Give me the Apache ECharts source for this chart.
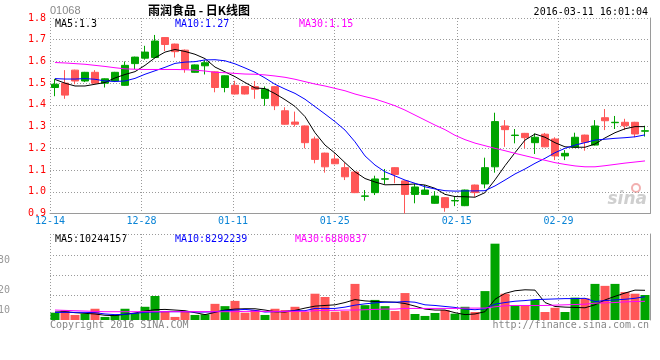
<!DOCTYPE html>
<html>
<head>
<meta charset="utf-8">
<script src="https://cdn.jsdelivr.net/npm/echarts@6/dist/echarts.min.js"></script>
<style>
html,body{margin:0;padding:0;background:#fff;}
#c{width:660px;height:360px;}
</style>
</head>
<body>
<div id="c"></div>
<script>
// ---- data ----
const dates = ['12-14','12-15','12-16','12-17','12-18','12-21','12-22','12-23','12-24','12-28',
  '12-29','12-30','12-31','01-04','01-05','01-06','01-07','01-08','01-11','01-12',
  '01-13','01-14','01-15','01-18','01-19','01-20','01-21','01-22','01-25','01-26',
  '01-27','01-28','01-29','02-01','02-02','02-03','02-04','02-05','02-11','02-12',
  '02-15','02-16','02-17','02-18','02-19','02-22','02-23','02-24','02-25','02-26',
  '02-29','03-01','03-02','03-03','03-04','03-07','03-08','03-09','03-10','03-11'];
const openP = [1.480,1.500,1.560,1.510,1.550,1.500,1.510,1.490,1.590,1.615,
  1.618,1.710,1.680,1.652,1.550,1.580,1.552,1.480,1.490,1.485,
  1.484,1.430,1.484,1.373,1.321,1.303,1.243,1.178,1.151,1.111,
  1.091,0.979,0.996,1.058,1.111,1.050,0.988,0.988,0.947,0.973,
  0.958,0.936,1.031,1.036,1.115,1.303,1.259,1.269,1.226,1.265,
  1.243,1.165,1.205,1.261,1.215,1.341,1.318,1.320,1.320,1.279];
const closeP = [1.495,1.445,1.510,1.550,1.500,1.520,1.550,1.582,1.620,1.643,
  1.694,1.678,1.645,1.565,1.584,1.594,1.480,1.534,1.450,1.450,
  1.472,1.472,1.396,1.311,1.311,1.226,1.149,1.115,1.129,1.069,
  0.996,0.981,1.059,1.060,1.080,0.988,1.022,1.008,0.980,0.927,
  0.960,1.008,0.996,1.111,1.323,1.286,1.261,1.249,1.251,1.207,
  1.165,1.177,1.251,1.228,1.303,1.327,1.320,1.304,1.266,1.281];
const lowP = [1.440,1.428,1.495,1.505,1.498,1.480,1.505,1.488,1.565,1.608,
  1.615,1.648,1.618,1.548,1.548,1.540,1.458,1.458,1.448,1.448,
  1.428,1.396,1.376,1.309,1.300,1.200,1.131,1.088,1.127,1.054,
  0.994,0.959,0.985,1.036,1.039,0.900,0.947,0.986,0.945,0.908,
  0.934,0.934,0.977,1.016,1.088,1.207,1.223,1.200,1.174,1.205,
  1.146,1.146,1.203,1.189,1.213,1.284,1.289,1.284,1.251,1.254];
const highP = [1.520,1.560,1.562,1.552,1.560,1.522,1.552,1.600,1.622,1.672,
  1.722,1.712,1.682,1.655,1.586,1.606,1.554,1.536,1.511,1.486,
  1.510,1.485,1.486,1.389,1.369,1.305,1.254,1.180,1.172,1.133,
  1.093,1.008,1.074,1.105,1.113,1.052,1.037,1.031,1.003,0.975,
  0.977,1.010,1.033,1.157,1.364,1.330,1.289,1.271,1.269,1.271,
  1.251,1.192,1.272,1.263,1.330,1.381,1.349,1.336,1.322,1.304];
const ma5 = [1.517,1.500,1.487,1.487,1.495,1.503,1.524,1.540,1.553,1.582,
  1.617,1.643,1.655,1.646,1.633,1.613,1.574,1.552,1.530,1.503,
  1.478,1.475,1.452,1.424,1.393,1.346,1.272,1.215,1.178,1.134,
  1.092,1.061,1.045,1.032,1.033,1.033,1.036,1.031,1.016,0.988,
  0.978,0.977,0.975,0.996,1.055,1.120,1.180,1.238,1.266,1.251,
  1.226,1.207,1.205,1.205,1.220,1.248,1.272,1.290,1.300,1.300];
const ma10 = [1.521,1.519,1.519,1.521,1.518,1.510,1.508,1.510,1.522,1.541,
  1.557,1.573,1.591,1.597,1.599,1.607,1.608,1.603,1.589,1.570,
  1.550,1.524,1.495,1.473,1.453,1.426,1.392,1.358,1.323,1.284,
  1.230,1.165,1.123,1.092,1.073,1.054,1.039,1.023,1.013,1.005,
  1.003,1.004,1.004,1.005,1.027,1.054,1.082,1.105,1.131,1.154,
  1.180,1.200,1.215,1.226,1.238,1.242,1.246,1.249,1.253,1.262];
const ma30 = [1.595,1.593,1.590,1.587,1.582,1.577,1.571,1.566,1.564,1.563,
  1.563,1.563,1.563,1.562,1.560,1.556,1.550,1.548,1.545,1.542,
  1.541,1.538,1.533,1.527,1.518,1.507,1.496,1.487,1.476,1.465,
  1.450,1.438,1.427,1.412,1.396,1.376,1.353,1.330,1.307,1.286,
  1.260,1.240,1.224,1.212,1.200,1.189,1.177,1.166,1.155,1.145,
  1.134,1.126,1.119,1.115,1.115,1.120,1.126,1.132,1.137,1.142];
// volume in millions of shares
const vol = [3.4,4.2,2.7,3.1,4.6,2.1,2.7,4.6,3.3,5.2,
  8.5,3.6,2.1,3.6,2.7,2.9,6.1,5.4,7.0,3.4,
  4.2,2.7,4.6,4.2,5.2,3.6,9.2,8.2,3.7,3.9,
  12.2,5.7,7.3,5.4,3.9,9.4,3.0,2.4,3.3,4.2,
  3.1,5.2,3.6,10.0,24.5,9.2,5.7,5.7,7.3,3.6,
  4.9,3.6,8.0,7.8,12.2,11.6,12.2,9.7,9.2,8.8];
const volMa5 = [3.6,3.7,3.4,3.2,3.0,2.6,2.5,2.9,3.3,3.9,
  4.3,4.4,4.2,4.0,3.4,2.8,3.5,4.2,4.5,4.6,
  4.6,4.2,3.7,3.6,4.1,4.8,5.4,5.6,5.8,6.5,
  7.4,7.0,6.8,6.7,6.6,6.2,5.4,4.5,4.2,4.2,
  3.4,2.8,3.0,3.7,7.5,9.3,10.1,10.4,10.3,6.5,
  5.3,5.1,5.0,4.9,5.8,7.3,8.4,9.4,10.3,10.24];
const volMa10 = [3.5,3.5,3.5,3.5,3.4,3.0,2.8,2.9,3.2,3.5,
  3.6,3.7,3.7,3.7,3.6,3.6,3.7,4.0,4.2,4.4,
  4.1,3.6,3.7,3.8,4.0,4.0,4.7,4.7,4.7,5.1,
  5.7,6.1,6.4,6.6,6.6,6.8,6.6,5.8,5.6,5.3,
  5.0,4.5,4.3,4.6,6.0,6.5,6.9,7.1,7.4,7.5,
  7.6,7.7,7.7,7.8,6.8,7.1,7.3,7.5,7.8,8.29];
const volMa30 = [4.2,4.1,4.0,3.9,3.8,3.7,3.7,3.7,3.7,3.7,
  3.7,3.7,3.7,3.7,3.7,3.7,3.7,3.7,3.7,3.8,
  3.8,3.8,3.8,3.8,3.8,3.8,4.0,4.1,4.1,4.2,
  4.2,4.3,4.4,4.5,4.5,4.7,4.7,4.7,4.7,4.7,
  4.7,4.8,4.8,4.8,5.2,5.5,5.6,5.6,5.6,5.6,
  5.7,5.8,5.9,6.0,6.3,6.4,6.5,6.7,6.8,6.88];
const xTickLabels = ['12-14','12-28','01-11','01-25','02-15','02-29'];
const volTickLabels = ['30','20','10'];
const mainLegend = ['MA5:1.3','MA10:1.27','MA30:1.15'];
const volLegend = ['MA5:10244157','MA10:8292239','MA30:6880837'];
const stockCode = '01068';
const titleText = '雨润食品 - 日K线图';
const timeText = '2016-03-11 16:01:04';

// ---- chart ----
const UP = '#00a400', DOWN = '#ff5757';
const MONO = 'DejaVu Sans Mono';
const tickIdx = xTickLabels.map(l => dates.indexOf(l));
const kData = dates.map((d, i) => [openP[i], closeP[i], lowP[i], highP[i]]);
const volData = vol.map((v, i) => ({ value: v, itemStyle: { color: closeP[i] >= openP[i] ? UP : DOWN } }));
const dotted = { color: '#9a9a9a', type: [1, 2], width: 1 };
const chart = echarts.init(document.getElementById('c'), null, { renderer: 'canvas' });

const lineS = (name, data, color, xi, yi) => ({
  name, type: 'line', data, xAxisIndex: xi, yAxisIndex: yi, showSymbol: false, symbol: 'none',
  lineStyle: { color, width: 1 }, itemStyle: { color }, silent: true, z: 3
});

chart.setOption({
  animation: false,
  backgroundColor: '#fff',
  grid: [
    { left: 50, top: 18, width: 600, height: 195.5 },
    { left: 50, top: 234, width: 600, height: 86 }
  ],
  xAxis: [
    { type: 'category', gridIndex: 0, data: dates, boundaryGap: true,
      axisLine: { show: true, lineStyle: { color: '#9a9a9a' } }, axisTick: { show: false },
      axisLabel: { show: false }, splitLine: { show: false } },
    { type: 'value', gridIndex: 0, min: 0, max: dates.length - 1, position: 'bottom',
      axisLine: { show: false }, axisTick: { show: false, customValues: tickIdx },
      axisLabel: { customValues: tickIdx, formatter: v => dates[Math.round(v)], color: '#0a84d6',
        fontFamily: MONO, fontSize: 10, margin: 3, hideOverlap: false, showMinLabel: true },
      splitLine: { show: true, lineStyle: dotted } },
    { type: 'category', gridIndex: 1, data: dates, boundaryGap: true,
      axisLine: { show: false }, axisTick: { show: false }, axisLabel: { show: false }, splitLine: { show: false } },
    { type: 'value', gridIndex: 1, min: 0, max: dates.length - 1, position: 'bottom',
      axisLine: { show: false }, axisTick: { show: false, customValues: tickIdx },
      axisLabel: { show: false }, splitLine: { show: true, lineStyle: dotted } }
  ],
  yAxis: [
    { type: 'value', gridIndex: 0, min: 0.9, max: 1.8, interval: 0.1,
      axisLine: { show: false }, axisTick: { show: false },
      axisLabel: { color: '#ff0000', fontFamily: MONO, fontSize: 10, margin: 4, formatter: v => v.toFixed(1) },
      splitLine: { show: true, lineStyle: dotted } },
    { type: 'value', gridIndex: 0, min: 0.9, max: 1.8, position: 'right',
      axisLine: { show: true, lineStyle: { color: '#9a9a9a' } }, axisTick: { show: false },
      axisLabel: { show: false }, splitLine: { show: false } },
    { type: 'value', gridIndex: 1, min: 1.16, max: 27.46,
      axisLine: { show: false }, axisTick: { show: false, customValues: [8.7, 14.8, 20.9, 27.46] },
      axisLabel: { show: false }, splitLine: { show: true, lineStyle: dotted } },
    { type: 'value', gridIndex: 1, min: 1.16, max: 27.46, position: 'right',
      axisLine: { show: true, lineStyle: { color: '#9a9a9a' } }, axisTick: { show: false },
      axisLabel: { show: false }, splitLine: { show: false } }
  ],
  series: [
    { type: 'candlestick', xAxisIndex: 0, yAxisIndex: 0, data: kData, barWidth: 8, silent: true,
      itemStyle: { color: UP, color0: DOWN, borderColor: UP, borderColor0: DOWN, borderWidth: 1 } },
    lineS('MA5', ma5, '#000000', 0, 0),
    lineS('MA10', ma10, '#0000ff', 0, 0),
    lineS('MA30', ma30, '#ff00ff', 0, 0),
    { type: 'bar', xAxisIndex: 2, yAxisIndex: 2, data: volData, barWidth: 9, silent: true },
    lineS('VMA5', volMa5, '#000000', 2, 2),
    lineS('VMA10', volMa10, '#0000ff', 2, 2),
    lineS('VMA30', volMa30, '#ff00ff', 2, 2)
  ],
  graphic: [
    { type: 'text', left: 50, top: 5, style: { text: stockCode, fill: '#888', font: '11px "Liberation Sans"' } },
    { type: 'text', x: 199, y: 10, style: { text: titleText, fill: '#000', font: 'bold 12px "Noto Sans CJK SC"', align: 'center', verticalAlign: 'middle' } },
    { type: 'text', x: 648, y: 12, style: { text: timeText, fill: '#000', font: '10px "DejaVu Sans Mono"', align: 'right', verticalAlign: 'middle' } },
    { type: 'text', x: 55, y: 24, style: { text: mainLegend[0], fill: '#000', font: '10px "DejaVu Sans Mono"', verticalAlign: 'middle' } },
    { type: 'text', x: 175, y: 24, style: { text: mainLegend[1], fill: '#0000ff', font: '10px "DejaVu Sans Mono"', verticalAlign: 'middle' } },
    { type: 'text', x: 299, y: 24, style: { text: mainLegend[2], fill: '#ff00ff', font: '10px "DejaVu Sans Mono"', verticalAlign: 'middle' } },
    { type: 'text', x: 55, y: 239, style: { text: volLegend[0], fill: '#000', font: '10px "DejaVu Sans Mono"', verticalAlign: 'middle' } },
    { type: 'text', x: 175, y: 239, style: { text: volLegend[1], fill: '#0000ff', font: '10px "DejaVu Sans Mono"', verticalAlign: 'middle' } },
    { type: 'text', x: 295, y: 239, style: { text: volLegend[2], fill: '#ff00ff', font: '10px "DejaVu Sans Mono"', verticalAlign: 'middle' } },
    { type: 'text', x: 10, y: 260, style: { text: volTickLabels[0], fill: '#999', font: '10px "DejaVu Sans Mono"', align: 'right', verticalAlign: 'middle' } },
    { type: 'text', x: 10, y: 290, style: { text: volTickLabels[1], fill: '#999', font: '10px "DejaVu Sans Mono"', align: 'right', verticalAlign: 'middle' } },
    { type: 'text', x: 10, y: 310, style: { text: volTickLabels[2], fill: '#999', font: '10px "DejaVu Sans Mono"', align: 'right', verticalAlign: 'middle' } },
    { type: 'text', x: 50, y: 325, style: { text: 'Copyright 2016 SINA.COM', fill: '#888', font: '10px "DejaVu Sans Mono"', verticalAlign: 'middle' } },
    { type: 'text', x: 649, y: 325, style: { text: 'http://finance.sina.com.cn', fill: '#888', font: '10px "DejaVu Sans Mono"', align: 'right', verticalAlign: 'middle' } },
    { type: 'circle', shape: { cx: 636, cy: 188, r: 4 }, style: { fill: 'none', stroke: '#f2b0b0', lineWidth: 2 }, silent: true },
    { type: 'text', x: 647, y: 200, style: { text: 'sina', fill: '#cfcfcf', font: 'italic bold 17px "DejaVu Sans"', align: 'right', verticalAlign: 'middle' } }
  ]
});
</script>
</body>
</html>
